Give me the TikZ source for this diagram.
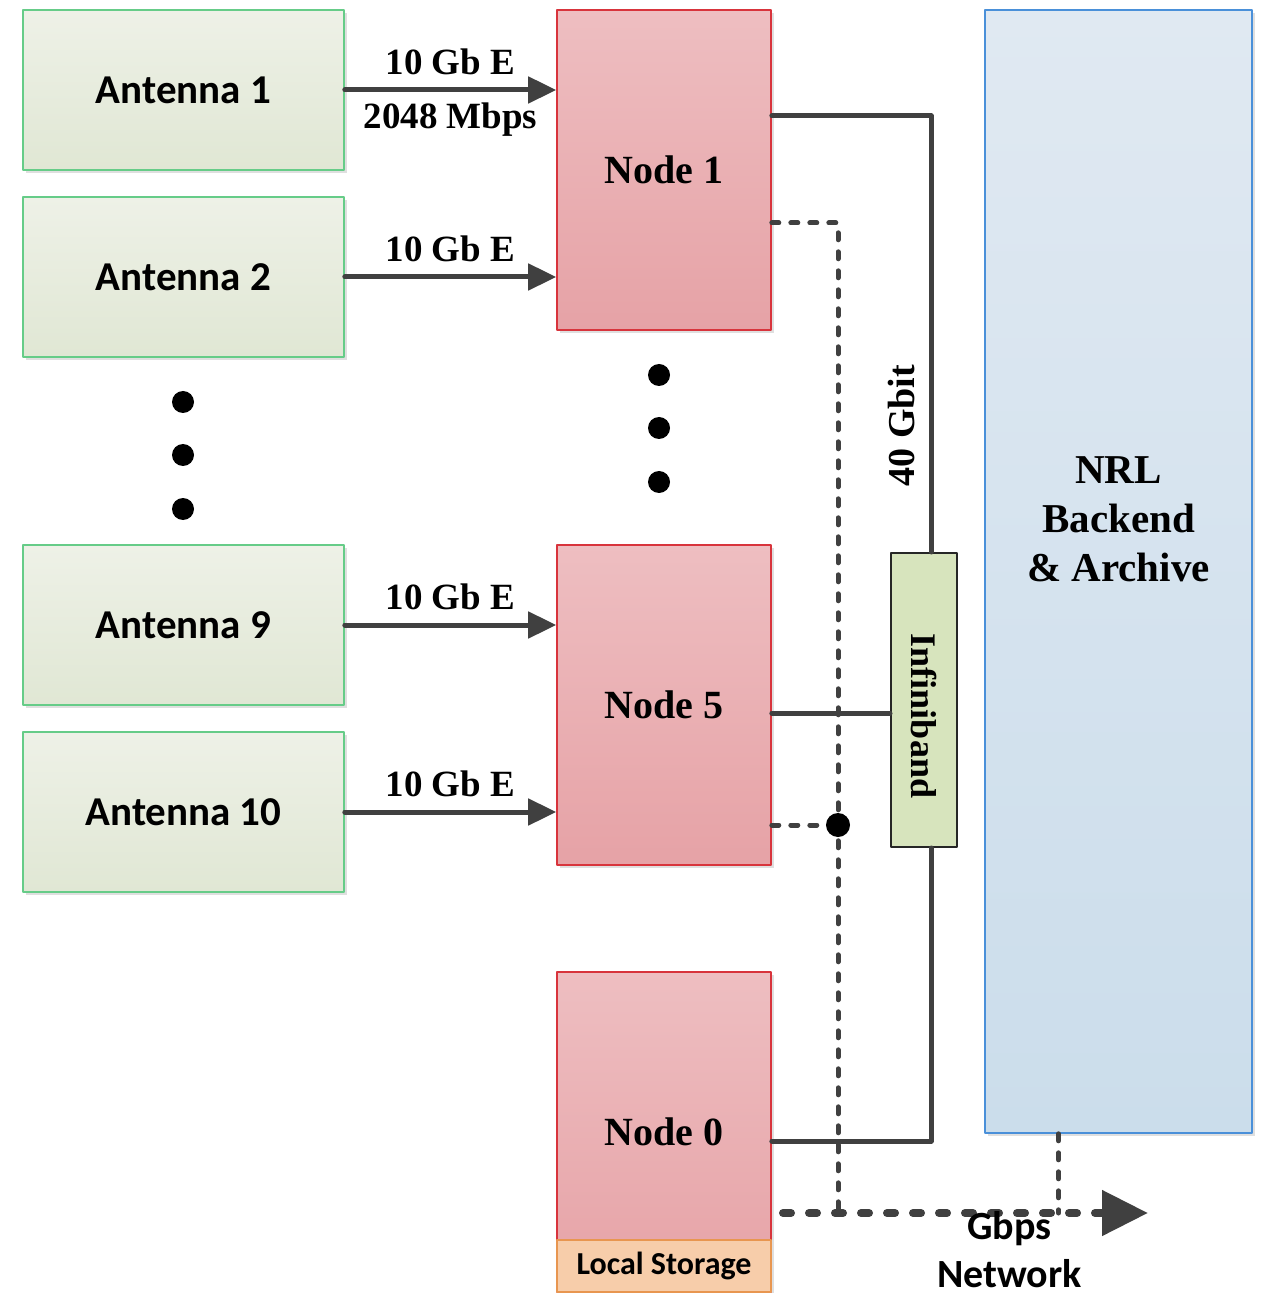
\documentclass[tikz,border=0pt]{standalone}
\usepackage{fontspec}
\setmainfont{Liberation Serif}
\newfontfamily\calfont{Carlito}
\usepackage{tikz}
\usetikzlibrary{arrows.meta,calc,positioning,shadows}
\definecolor{linkgray}{RGB}{64,64,64}
\definecolor{anttop}{RGB}{238,241,231}
\definecolor{antbot}{RGB}{224,231,212}
\definecolor{antline}{RGB}{102,204,136}
\definecolor{proctop}{RGB}{238,190,193}
\definecolor{procbot}{RGB}{230,162,166}
\definecolor{procline}{RGB}{216,52,60}
\definecolor{nrltop}{RGB}{224,233,242}
\definecolor{nrlbot}{RGB}{203,221,235}
\definecolor{nrlline}{RGB}{74,144,217}
\definecolor{ibfill}{RGB}{215,228,189}
\definecolor{lsfill}{RGB}{247,205,170}
\definecolor{lsline}{RGB}{232,150,80}

\begin{document}
\begin{tikzpicture}[x=0.5pt,y=-0.5pt, line join=round, >={Triangle[length=14pt,width=13pt]},
    boxshadow/.style={drop shadow={shadow xshift=1.5pt,shadow yshift=-1.5pt,fill=black!25,opacity=0.5}},
    antbox/.style={draw=antline,line width=0.8pt,top color=anttop,bottom color=antbot,boxshadow,
        minimum width=160.5pt,minimum height=80pt,font=\calfont\bfseries\fontsize{20.5}{24}\selectfont},
    procbox/.style={draw=procline,line width=0.8pt,top color=proctop,bottom color=procbot,boxshadow,
        minimum width=107pt,minimum height=160pt,font=\bfseries\fontsize{20}{24}\selectfont},
    storebox/.style={draw=lsline,line width=0.8pt,fill=lsfill,minimum width=107pt,minimum height=26pt,
        font=\calfont\bfseries\fontsize{16}{19}\selectfont},
    ibbox/.style={draw=black!85,line width=1pt,fill=ibfill,minimum width=33pt,minimum height=147pt,
        font=\bfseries\fontsize{18}{21}\selectfont},
    nrlbox/.style={draw=nrlline,line width=0.8pt,top color=nrltop,bottom color=nrlbot,boxshadow,
        minimum width=133.5pt,minimum height=561.5pt},
    rate/.style={inner sep=2pt,font=\bfseries\fontsize{18.5}{22}\selectfont},
    link/.style={draw=linkgray,line width=2.5pt,line cap=round},
    bus/.style={draw=linkgray,line width=2.5pt,line cap=round,dash pattern=on 3.5pt off 6pt},
    net/.style={draw=linkgray,line width=4pt,line cap=round,dash pattern=on 4pt off 9pt,
        -{Triangle[length=23pt,width=22pt]}}]
    \useasboundingbox (0,0) rectangle (1262,1293);
    % antennas
    \node[antbox] (a1) at (183.5,90) {Antenna 1};
    \node[antbox] (a2) at (183.5,277) {Antenna 2};
    \node[antbox] (a9) at (183.5,625) {Antenna 9};
    \node[antbox] (a10) at (183.5,812) {Antenna 10};
    \foreach \y in {402,455,509} {
        \fill (183,\y) circle (5.5pt);
    }
    % processing nodes
    \node[procbox] (n1) at (664,170) {Node 1};
    \node[procbox] (n5) at (664,705) {Node 5};
    \node[procbox] (n0) at (664,1132) {Node 0};
    \node[storebox] (ls) at (664,1266) {Local Storage};
    \foreach \y in {375,428,482} {
        \fill (659,\y) circle (5.5pt);
    }
    % switch and archive
    \node[ibbox] (ib) at (924,700) {\rotatebox{-90}{\hspace{16pt}Infiniband}};
    \node[nrlbox,label={[align=center,yshift=26pt,font=\bfseries\fontsize{20.5}{24.5}\selectfont]center:NRL\\Backend\\\& Archive}] (nrl) at (1118.5,571.5) {};
    % antenna links
    \draw[link,->] (a1.east) -- (a1.east -| n1.west)
        node[midway,above=4.5pt,rate] {10 Gb E}
        node[midway,below=3pt,rate] {2048 Mbps};
    \foreach \a in {a2,a9,a10} {
        \draw[link,->] (\a.east) -- (\a.east -| n1.west) node[midway,above=4.5pt,rate] {10 Gb E};
    }
    % infiniband links
    \draw[link] ([yshift=27pt]n1.east) -| ([xshift=3.5pt]ib.north)
        node[pos=0.855,rotate=90,anchor=south,inner sep=2pt,outer sep=6pt,font=\bfseries\fontsize{19}{22}\selectfont] {40 Gbit};
    \draw[link] ([yshift=-4pt]n5.east) -- ([yshift=-4pt]n5.east -| ib.west);
    \draw[link] ([xshift=3.5pt]ib.south) |- ([yshift=-4.5pt]n0.east);
    % gbps network
    \coordinate (busend) at (838,1213);
    \coordinate (netA) at (783,1213);
    \coordinate (netB) at (1148,1213);
    \draw[bus] ([yshift=-26.5pt]n1.east) -| (busend);
    \coordinate (jn) at ([yshift=-60pt]n5.east -| busend);
    \draw[bus] ([yshift=-60pt]n5.east) -- (jn);
    \fill (jn) circle (6pt);
    \draw[bus] ([xshift=-30pt]nrl.south) -- ([xshift=-30pt]nrl.south |- netB);
    \draw[net] (netA) -- (netB)
        node[pos=0.62,anchor=north,inner sep=0pt,yshift=3pt,align=center,font=\calfont\bfseries\fontsize{20}{24}\selectfont] {Gbps\\Network};
\end{tikzpicture}
\end{document}
